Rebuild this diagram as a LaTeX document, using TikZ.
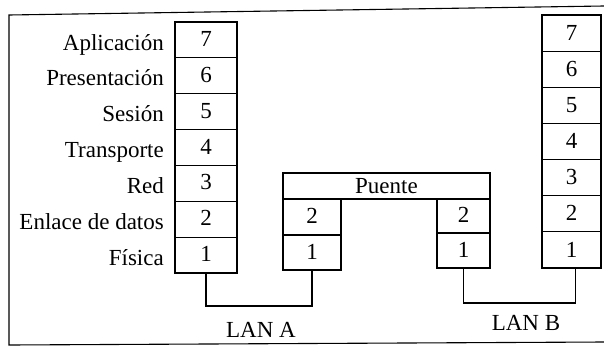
\documentclass[tikz,border=0pt]{standalone}
\usepackage{fontspec}
\setmainfont{Liberation Serif}
\newcommand\myfs{\fontsize{23}{27}\selectfont}
\begin{document}
\begin{tikzpicture}[x=1pt,y=-1pt,
  cell/.style={draw, line width=1.1pt, inner sep=0pt, font=\myfs},
  lab/.style={anchor=base east, inner sep=0pt, font=\myfs},
  txt/.style={inner sep=0pt, font=\myfs},
  conn/.style={draw, line width=1.1pt},
  frame/.style={draw, line width=1.1pt}]
\useasboundingbox (0,0) rectangle (604,348);
% outer frame (open on the right)
\draw[frame] (604,6) -- (9,15) -- (9,345) -- (604,342);
% left end system
\foreach \n [count=\i from 0] in {7,6,5,4,3,2,1}
  \node[cell, minimum width=62pt, minimum height=35.86pt] (a\n) at (206, 22+35.86*\i+17.93) {\raisebox{2pt}{\n}};
\foreach \t [count=\i from 0] in {Aplicación,Presentación,Sesión,Transporte,Red,Enlace de datos,Física}
  \node[lab] (l\i) at (164, 22+35.86*\i+28) {\t};
% right end system
\foreach \n [count=\i from 0] in {7,6,5,4,3,2,1}
  \node[cell, minimum width=59pt, minimum height=36.14pt] (b\n) at (571.5, 15+36.14*\i+18.07) {\raisebox{1pt}{\n}};
% bridge
\node[cell, minimum width=207pt, minimum height=26pt] (puente) at (386.5,186) {Puente};
\node[cell, minimum width=58pt, minimum height=36pt] (bl2) at (312,217) {\raisebox{2pt}{2}};
\node[cell, minimum width=58pt, minimum height=35pt] (bl1) at (312,252.5) {\raisebox{2pt}{1}};
\node[cell, minimum width=53pt, minimum height=34pt] (br2) at (463.5,216) {\raisebox{2pt}{2}};
\node[cell, minimum width=53pt, minimum height=35pt] (br1) at (463.5,250.5) {\raisebox{1pt}{1}};
% LANs
\coordinate (ya) at (0,306);
\coordinate (yb) at (0,303);
\draw[conn] (a1.south) -- (a1.south |- ya) -| (bl1.south);
\draw[conn] (br1.south) -- (br1.south |- yb) -| ([xshift=4pt]b1.south);
\node[txt] (lana) at (261,330) {LAN A};
\node[txt] (lanb) at (526,323) {LAN B};
\end{tikzpicture}
\end{document}
